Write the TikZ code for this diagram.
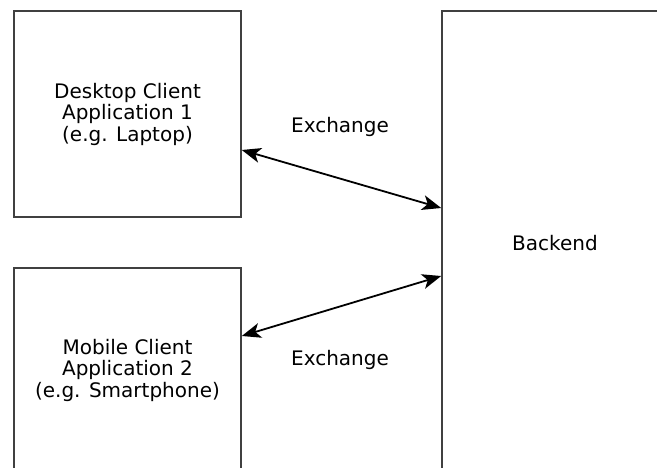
\documentclass[tikz,border=0pt]{standalone}
\usepackage{fontspec}
\setmainfont{DejaVu Sans}
\usetikzlibrary{arrows.meta}

\tikzset{
  blockbox/.style={draw=black!75, line width=1.6pt, align=center, font=\fontsize{20}{21.5}\selectfont},
  exchange/.style={black, line width=1.8pt, {Stealth[length=19pt,width=15pt,inset=5pt]}-{Stealth[length=19pt,width=15pt,inset=5pt]}}
}

\begin{document}
\begin{tikzpicture}[x=1pt, y=-1pt]
             \useasboundingbox (0,0) rectangle (657,468);
             \clip (0,0) rectangle (657,468);

             \node[blockbox, minimum width=227pt, minimum height=206pt] (desktop) at (127.5,114) {Desktop Client\\Application 1\\(e.g. Laptop)};
             \node[blockbox, minimum width=227pt, minimum height=204pt] (mobile) at (127.5,370) {Mobile Client\\Application 2\\(e.g. Smartphone)};
             \node[blockbox, minimum width=226pt, minimum height=464pt] (backend) at (555,243) {Backend};

             \node[draw=none, font=\fontsize{20}{21.5}\selectfont] (ex1) at (340,127) {Exchange};
             \node[draw=none, font=\fontsize{20}{21.5}\selectfont] (ex2) at (340,360) {Exchange};

             \draw[exchange] ([yshift=-36pt]desktop.east) -- ([yshift=35pt]backend.west);
             \draw[exchange] ([yshift=34pt]mobile.east) -- ([yshift=-33pt]backend.west);
             \end{tikzpicture}
\end{document}
